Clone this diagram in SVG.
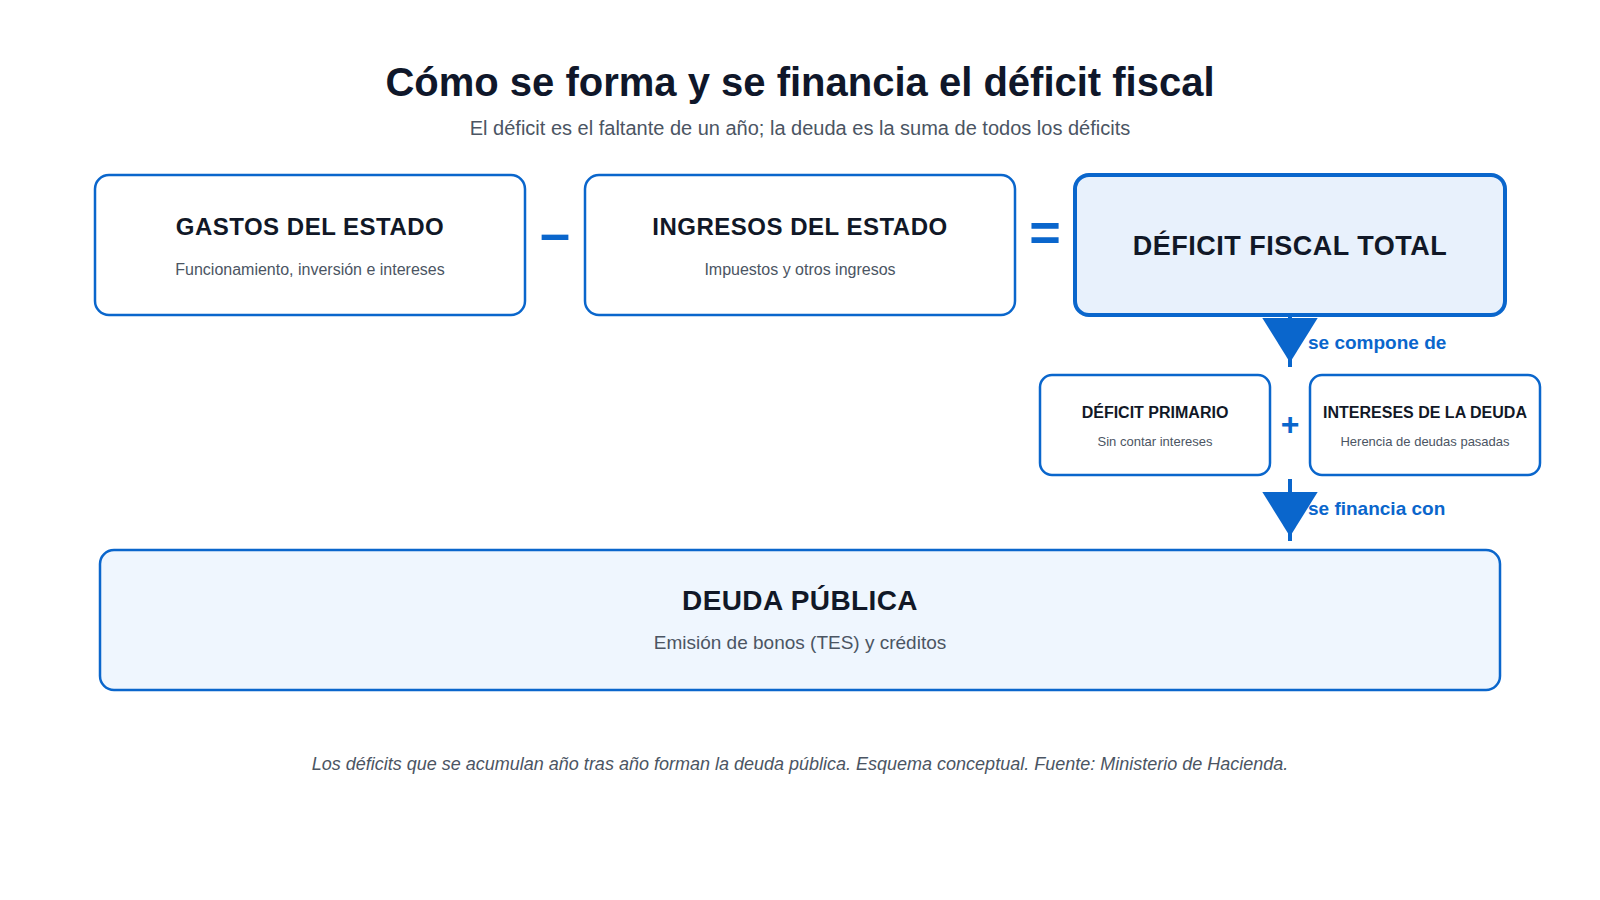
<svg xmlns="http://www.w3.org/2000/svg" width="1600" height="900" viewBox="0 0 1600 900">
  <defs>
    <marker id="arrow" viewBox="0 0 50 56" markerWidth="50" markerHeight="56" refX="49.5" refY="28" orient="auto" markerUnits="userSpaceOnUse">
      <path d="M0,0 L45,28 L0,56 Z" fill="#0a66cc"/>
    </marker>
    <style>
      .t { font-family: "Liberation Sans", Arial, Helvetica, sans-serif; }
      .title { font-size: 40px; font-weight: bold; fill: #0f172a; }
      .subtitle { font-size: 20px; fill: #4b5563; }
      .box { fill: #ffffff; stroke: #0a66cc; stroke-width: 2.5; }
      .box-emph { fill: #e8f1fc; stroke: #0a66cc; stroke-width: 4; }
      .box-soft { fill: #eff6fe; stroke: #0a66cc; stroke-width: 2.5; }
      .h1 { font-size: 24px; font-weight: bold; fill: #111827; letter-spacing: 0.5px; }
      .h-big { font-size: 27px; font-weight: bold; fill: #111827; letter-spacing: 0.5px; }
      .h-deuda { font-size: 28px; font-weight: bold; fill: #111827; letter-spacing: 0.4px; }
      .h2 { font-size: 16px; font-weight: bold; fill: #111827; }
      .s1 { font-size: 16px; fill: #4b5563; }
      .s2 { font-size: 13px; fill: #4b5563; }
      .s-big { font-size: 19px; fill: #4b5563; }
      .op { font-weight: bold; fill: #0a66cc; }
      .conn { stroke: #0a66cc; stroke-width: 4; fill: none; marker-end: url(#arrow); }
      .clabel { font-size: 19px; font-weight: bold; fill: #0a66cc; }
      .foot { font-size: 18px; font-style: italic; fill: #4b5563; }
    </style>
  </defs>
  <rect width="1600" height="900" fill="#ffffff"/>

  <g id="header" class="t" text-anchor="middle">
    <text class="title" x="800" y="96">Cómo se forma y se financia el déficit fiscal</text>
    <text class="subtitle" x="800" y="135">El déficit es el faltante de un año; la deuda es la suma de todos los déficits</text>
  </g>

  <g id="connectors">
    <line class="conn" x1="1290" y1="316" x2="1290" y2="367"/>
    <line class="conn" x1="1290" y1="479" x2="1290" y2="541"/>
    <text class="t clabel" x="1308" y="349">se compone de</text>
    <text class="t clabel" x="1308" y="515">se financia con</text>
  </g>

  <g id="gastos" class="t" text-anchor="middle">
    <rect class="box" x="95" y="175" width="430" height="140" rx="14"/>
    <text class="h1" x="310" y="235">GASTOS DEL ESTADO</text>
    <text class="s1" x="310" y="275">Funcionamiento, inversión e intereses</text>
  </g>

  <g id="op-minus" class="t" text-anchor="middle">
    <text class="op" x="555" y="252" font-size="54">–</text>
  </g>

  <g id="ingresos" class="t" text-anchor="middle">
    <rect class="box" x="585" y="175" width="430" height="140" rx="14"/>
    <text class="h1" x="800" y="235">INGRESOS DEL ESTADO</text>
    <text class="s1" x="800" y="275">Impuestos y otros ingresos</text>
  </g>

  <g id="op-equals" class="t" text-anchor="middle">
    <text class="op" x="1045" y="251" font-size="54">=</text>
  </g>

  <g id="deficit-total" class="t" text-anchor="middle">
    <rect class="box-emph" x="1075" y="175" width="430" height="140" rx="14"/>
    <text class="h-big" x="1290" y="255">DÉFICIT FISCAL TOTAL</text>
  </g>

  <g id="deficit-primario" class="t" text-anchor="middle">
    <rect class="box" x="1040" y="375" width="230" height="100" rx="12"/>
    <text class="h2" x="1155" y="418">DÉFICIT PRIMARIO</text>
    <text class="s2" x="1155" y="446">Sin contar intereses</text>
  </g>

  <g id="op-plus" class="t" text-anchor="middle">
    <text class="op" x="1290" y="435" font-size="32">+</text>
  </g>

  <g id="intereses-deuda" class="t" text-anchor="middle">
    <rect class="box" x="1310" y="375" width="230" height="100" rx="12"/>
    <text class="h2" x="1425" y="418">INTERESES DE LA DEUDA</text>
    <text class="s2" x="1425" y="446">Herencia de deudas pasadas</text>
  </g>

  <g id="deuda-publica" class="t" text-anchor="middle">
    <rect class="box-soft" x="100" y="550" width="1400" height="140" rx="14"/>
    <text class="h-deuda" x="800" y="610">DEUDA PÚBLICA</text>
    <text class="s-big" x="800" y="649">Emisión de bonos (TES) y créditos</text>
  </g>

  <g id="footer" class="t" text-anchor="middle">
    <text class="foot" x="800" y="770">Los déficits que se acumulan año tras año forman la deuda pública. Esquema conceptual. Fuente: Ministerio de Hacienda.</text>
  </g>
</svg>
